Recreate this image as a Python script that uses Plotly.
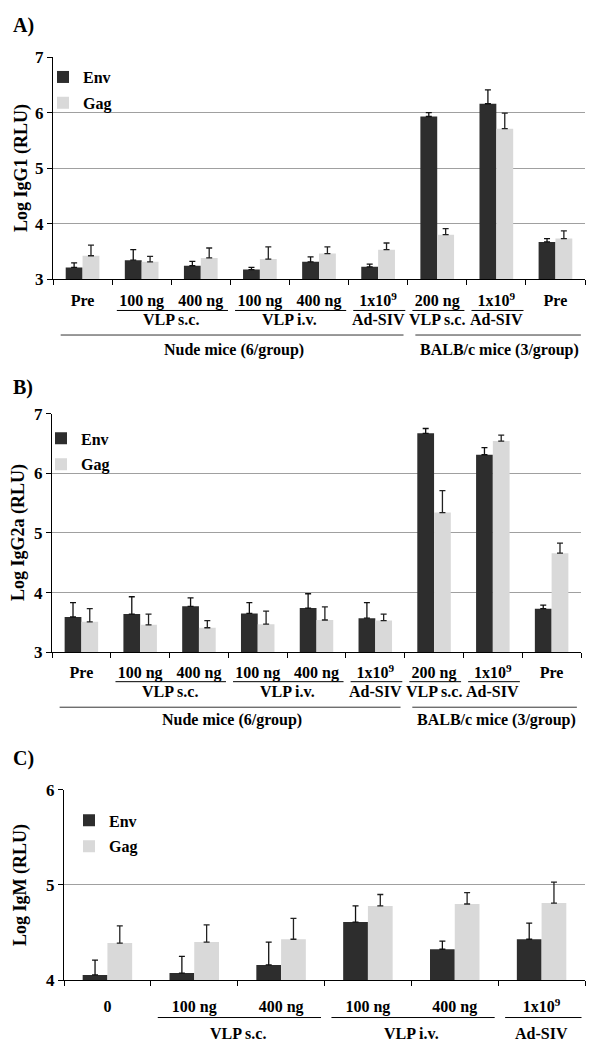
import plotly.graph_objects as go

W, H = 600, 1056
FONT = "Liberation Serif"
ENV_COLOR = "#2d2d2d"
GAG_COLOR = "#d9d9d9"
GRID_COLOR = "#a0a0a0"

# ---------------- data ----------------
cats_ab = ["Pre", "100 ng", "400 ng", "100 ng", "400 ng", "1x10<sup>9</sup>",
           "200 ng", "1x10<sup>9</sup>", "Pre"]
sub_groups_ab = [("VLP s.c.", 1, 2), ("VLP i.v.", 3, 4), ("Ad-SIV", 5, 5),
                 ("VLP s.c.", 6, 6), ("Ad-SIV", 7, 7)]
main_groups_ab = [("Nude mice (6/group)", 0, 5), ("BALB/c mice (3/group)", 6, 8)]

igg1_env = [3.21, 3.34, 3.24, 3.17, 3.31, 3.22, 5.93, 6.16, 3.67]
igg1_env_err = [0.08, 0.19, 0.08, 0.04, 0.09, 0.05, 0.07, 0.25, 0.06]
igg1_gag = [3.42, 3.31, 3.38, 3.36, 3.46, 3.53, 3.80, 5.71, 3.73]
igg1_gag_err = [0.19, 0.10, 0.18, 0.22, 0.12, 0.12, 0.11, 0.28, 0.14]

igg2a_env = [3.59, 3.64, 3.77, 3.65, 3.74, 3.57, 6.67, 6.31, 3.73]
igg2a_env_err = [0.24, 0.29, 0.14, 0.18, 0.24, 0.26, 0.08, 0.12, 0.06]
igg2a_gag = [3.51, 3.46, 3.41, 3.47, 3.54, 3.53, 5.34, 6.54, 4.66]
igg2a_gag_err = [0.22, 0.18, 0.12, 0.22, 0.22, 0.11, 0.37, 0.10, 0.17]

cats_c = ["0", "100 ng", "400 ng", "100 ng", "400 ng", "1x10<sup>9</sup>"]
sub_groups_c = [("VLP s.c.", 1, 2), ("VLP i.v.", 3, 4), ("Ad-SIV", 5, 5)]
main_groups_c = []

igm_env = [4.055, 4.075, 4.16, 4.61, 4.325, 4.43]
igm_env_err = [0.155, 0.175, 0.24, 0.17, 0.085, 0.17]
igm_gag = [4.39, 4.40, 4.43, 4.78, 4.80, 4.81]
igm_gag_err = [0.18, 0.18, 0.22, 0.12, 0.12, 0.22]

# ---------------- layout (pixels) ----------------
panels = [
    dict(letter="A)", title="Log IgG1 (RLU)", cats=cats_ab, sub=sub_groups_ab, main=main_groups_ab,
         env=igg1_env, env_err=igg1_env_err, gag=igg1_gag, gag_err=igg1_gag_err, yr=[3, 7],
         x0=53, x1=585, top=49, bot=275, letter_y=17, title_x=21, ticklen=7,
         subline=307, sublabel=316, mainline=332, mainlabel=347, leg_x=43, leg_y=52),
    dict(letter="B)", title="Log IgG2a (RLU)", cats=cats_ab, sub=sub_groups_ab, main=main_groups_ab,
         env=igg2a_env, env_err=igg2a_env_err, gag=igg2a_gag, gag_err=igg2a_gag_err, yr=[3, 7],
         x0=52, x1=581, top=412, bot=655, letter_y=385, title_x=19, ticklen=6,
         subline=685, sublabel=695, mainline=711, mainlabel=724, leg_x=41, leg_y=420),
    dict(letter="C)", title="Log IgM (RLU)", cats=cats_c, sub=sub_groups_c, main=main_groups_c,
         env=igm_env, env_err=igm_env_err, gag=igm_gag, gag_err=igm_gag_err, yr=[4, 6],
         x0=64, x1=585, top=795, bot=989, letter_y=763, title_x=21, ticklen=12,
         subline=1027, sublabel=1043, mainline=None, mainlabel=None, leg_x=69, leg_y=809),
]


def fy(px):
    return 1 - px / H


def fx(px):
    return px / W


fig = go.Figure()
annotations = []
shapes = []
bold = dict(family=FONT, size=16, color="black", weight="bold")

for i, p in enumerate(panels):
    n = i + 1
    sfx = "" if n == 1 else str(n)
    xa, ya, leg = "x" + sfx, "y" + sfx, "legend" + sfx
    xs = list(range(len(p["cats"])))
    zeros = [0] * len(xs)
    fig.add_trace(go.Bar(
        x=xs, y=p["env"], name="Env", xaxis=xa, yaxis=ya, legend=leg, legendgroup="env" + sfx,
        marker=dict(color=ENV_COLOR, line=dict(width=0)),
        error_y=dict(type="data", array=p["env_err"], arrayminus=zeros, symmetric=False,
                     color="#111111", thickness=1.3, width=3)))
    fig.add_trace(go.Bar(
        x=xs, y=p["gag"], name="Gag", xaxis=xa, yaxis=ya, legend=leg, legendgroup="gag" + sfx,
        marker=dict(color=GAG_COLOR, line=dict(width=0)),
        error_y=dict(type="data", array=p["gag_err"], arrayminus=zeros, symmetric=False,
                     color="#222222", thickness=1.3, width=3)))

    fig.update_layout({
        "xaxis" + sfx: dict(
            domain=[fx(p["x0"]), fx(p["x1"])], anchor=ya, range=[-0.5, len(xs) - 0.5],
            tickmode="array", tickvals=xs, ticktext=p["cats"], ticks="outside",
            ticklen=p["ticklen"], tickcolor="rgba(0,0,0,0)", tickfont=bold, showline=True,
            linecolor="black", linewidth=1, showgrid=False, zeroline=False, fixedrange=True,
            minor=dict(tickvals=[k - 0.5 for k in range(len(xs) + 1)], ticks="outside",
                       ticklen=5, tickwidth=1, tickcolor="black", showgrid=False)),
        "yaxis" + sfx: dict(
            domain=[fy(p["bot"]), fy(p["top"])], anchor=xa, range=p["yr"], tick0=0, dtick=1,
            ticks="outside", ticklen=5, tickcolor="black", showline=True, linecolor="black",
            linewidth=1, showgrid=True, gridcolor=GRID_COLOR, gridwidth=1, zeroline=False,
            tickfont=dict(family=FONT, size=17, color="black", weight="bold"), fixedrange=True),
        leg: dict(x=fx(p["leg_x"]), y=fy(p["leg_y"]), xanchor="left", yanchor="top",
                  bgcolor="rgba(0,0,0,0)", font=bold, tracegroupgap=2, itemwidth=30),
    })

    # panel letter
    annotations.append(dict(text=p["letter"], x=fx(11), y=fy(p["letter_y"]), xref="paper",
                            yref="paper", xanchor="left", yanchor="middle", showarrow=False,
                            font=dict(family=FONT, size=20, color="black", weight="bold")))
    # y title
    annotations.append(dict(text=p["title"], x=fx(p["title_x"]), y=fy((p["top"] + p["bot"]) / 2),
                            xref="paper", yref="paper", textangle=-90, showarrow=False,
                            xanchor="center", yanchor="middle",
                            font=dict(family=FONT, size=18, color="black", weight="bold")))
    # sub group labels + lines
    for name, s, e in p["sub"]:
        shapes.append(dict(type="line", xref=xa, yref="paper", x0=s - 0.42, x1=e + 0.46,
                           y0=fy(p["subline"]), y1=fy(p["subline"]),
                           line=dict(color="black", width=1)))
        annotations.append(dict(text=name, x=(s + e) / 2, y=fy(p["sublabel"]), xref=xa,
                                yref="paper", showarrow=False, xanchor="center",
                                yanchor="middle", font=bold))
    # main group labels + lines
    for name, s, e in p["main"]:
        shapes.append(dict(type="line", xref=xa, yref="paper", x0=s - 0.37, x1=e + 0.43,
                           y0=fy(p["mainline"]), y1=fy(p["mainline"]),
                           line=dict(color="#333333", width=1)))
        annotations.append(dict(text=name, x=(s + e) / 2 + 0.06, y=fy(p["mainlabel"]),
                                xref=xa, yref="paper", showarrow=False, xanchor="center",
                                yanchor="middle", font=bold))

fig.update_layout(
    width=W, height=H, margin=dict(l=0, r=0, t=0, b=0),
    paper_bgcolor="white", plot_bgcolor="white",
    barmode="group", bargap=0.43, bargroupgap=0,
    showlegend=True, annotations=annotations, shapes=shapes,
    font=dict(family=FONT, color="black"),
)

# remove the default 8px page margin so the figure sits at the window origin
fig.write_html("out.html", config={"displayModeBar": False},
               post_script="document.body.style.margin='0';document.body.style.overflow='hidden';")
